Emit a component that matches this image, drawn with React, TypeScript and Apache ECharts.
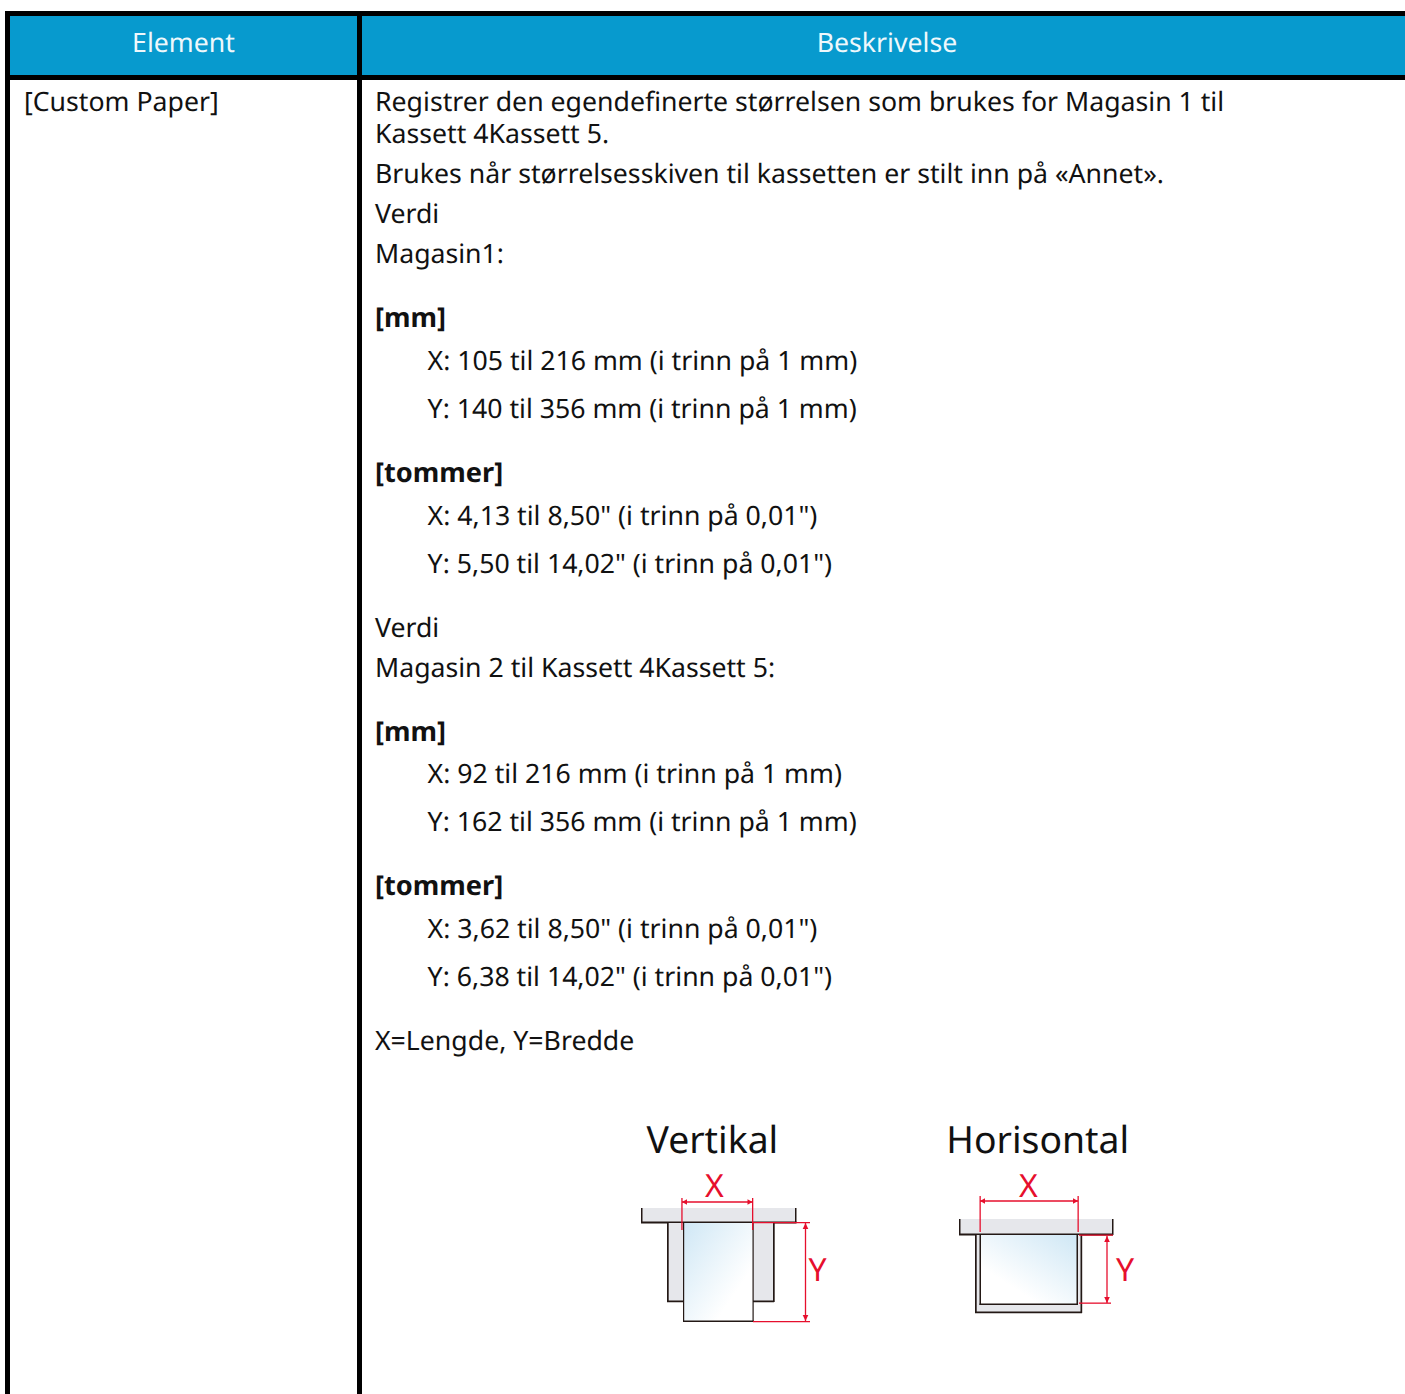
import React, { useEffect, useRef } from "react";
import * as echarts from "echarts";

const headers = ["Element", "Beskrivelse"];
const rowLabel = "[Custom Paper]";
const bodyLines = [
  "Registrer den egendefinerte størrelsen som brukes for Magasin 1 til",
  "Kassett 4Kassett 5.",
  "Brukes når størrelsesskiven til kassetten er stilt inn på «Annet».",
  "Verdi",
  "Magasin1:",
  "[mm]",
  "X: 105 til 216 mm (i trinn på 1 mm)",
  "Y: 140 til 356 mm (i trinn på 1 mm)",
  "[tommer]",
  "X: 4,13 til 8,50\" (i trinn på 0,01\")",
  "Y: 5,50 til 14,02\" (i trinn på 0,01\")",
  "Verdi",
  "Magasin 2 til Kassett 4Kassett 5:",
  "[mm]",
  "X: 92 til 216 mm (i trinn på 1 mm)",
  "Y: 162 til 356 mm (i trinn på 1 mm)",
  "[tommer]",
  "X: 3,62 til 8,50\" (i trinn på 0,01\")",
  "Y: 6,38 til 14,02\" (i trinn på 0,01\")",
  "X=Lengde, Y=Bredde",
];
const bodyY = [100, 132, 172, 212, 252, 316, 359, 407, 471, 514, 562, 626, 666, 730, 772, 820, 884, 927, 975, 1039];
const figureTitles = ["Vertikal", "Horisontal"];
const FONT = "'Noto Sans'";
const INK = "#111";
const RED = "#e60f2d";
const PANEL = "#e6e7eb";
const TRAY_LINE = "#231815";
const BODY_SIZE = 26.67;
const BOLD_SIZE = 27.2;

const rect = (x: number, y: number, w: number, h: number, fill: any) => ({
  type: "rect", silent: true, shape: { x, y, width: w, height: h }, style: { fill },
});
const text = (t: string, x: number, y: number, size: number, fill = INK, align = "left", weight = "normal") => ({
  type: "text", silent: true,
  style: { text: t, x, y, fill, align, verticalAlign: "middle", fontFamily: FONT, fontSize: size, fontWeight: weight },
});
const tri = (pts: number[][], fill = RED) => ({
  type: "polygon", silent: true, shape: { points: pts }, style: { fill },
});
const paperGrad = (x: number, y: number, x2: number, y2: number) =>
  new echarts.graphic.LinearGradient(x, y, x2, y2, [
    { offset: 0, color: "#cfe7f5" },
    { offset: 0.75, color: "#ffffff" },
    { offset: 1, color: "#ffffff" },
  ]);

function hArrow(x1: number, x2: number, y: number) {
  return [
    rect(x1, y - 0.65, x2 - x1, 1.3, RED),
    tri([[x1, y], [x1 + 5, y - 2.8], [x1 + 5, y + 2.8]]),
    tri([[x2, y], [x2 - 5, y - 2.8], [x2 - 5, y + 2.8]]),
  ];
}
function vArrow(x: number, y1: number, y2: number) {
  return [
    rect(x - 0.65, y1, 1.3, y2 - y1, RED),
    tri([[x, y1], [x - 2.8, y1 + 6], [x + 2.8, y1 + 6]]),
    tri([[x, y2], [x - 2.8, y2 - 6], [x + 2.8, y2 - 6]]),
  ];
}

function buildGraphics() {
  const g: any[] = [];
  // table frame
  g.push(rect(5, 11, 1400, 69, "#000"));
  g.push(rect(10, 16, 347, 59, "#079ace"));
  g.push(rect(362, 16, 1043, 59, "#079ace"));
  g.push(rect(5, 80, 5, 1314, "#000"));
  g.push(rect(357, 80, 5, 1314, "#000"));
  g.push(text(headers[0], 183.5, 41, BODY_SIZE, "#eef8fc", "center"));
  g.push(text(headers[1], 887, 41, BODY_SIZE, "#eef8fc", "center"));
  g.push(text(rowLabel, 24, 100, BODY_SIZE));
  bodyLines.forEach((l, i) => {
    const isHead = l === "[mm]" || l === "[tommer]";
    const indented = l.startsWith("X: ") || l.startsWith("Y: ");
    g.push(text(l, indented ? 427.6 : 375, bodyY[i], isHead ? BOLD_SIZE : BODY_SIZE, INK, "left", isHead ? "bold" : "normal"));
  });

  // Vertikal figure
  g.push(text(figureTitles[0], 646.5, 1138, 37.33, "#111"));
  g.push(rect(642, 1208, 154, 14, PANEL));
  g.push(rect(641, 1208, 1.5, 15, TRAY_LINE));
  g.push(rect(795, 1208, 1.5, 15, TRAY_LINE));
  g.push(rect(641, 1221.5, 155.5, 2, TRAY_LINE));
  g.push(rect(667, 1223, 107, 78, PANEL));
  g.push(rect(667, 1223, 1.7, 79, TRAY_LINE));
  g.push(rect(773, 1223, 1.7, 79, TRAY_LINE));
  g.push(rect(667, 1300.5, 107, 1.7, TRAY_LINE));
  g.push(rect(683, 1223, 70, 98, paperGrad(0, 0, 1, 0.95)));
  g.push(rect(683, 1223, 1.2, 99, TRAY_LINE));
  g.push(rect(752.5, 1223, 1.2, 99, TRAY_LINE));
  g.push(rect(683, 1320.5, 70.7, 1.5, TRAY_LINE));
  g.push(rect(681.3, 1198, 1.3, 32, RED));
  g.push(rect(752, 1198, 1.3, 32, RED));
  g.push(...hArrow(682, 752.5, 1202));
  g.push(rect(753, 1222, 57, 1.3, RED));
  g.push(rect(753, 1321, 57, 1.3, RED));
  g.push(...vArrow(805.5, 1223, 1321));
  g.push(text("X", 714.5, 1185, 32, RED, "center"));
  g.push(text("Y", 817.5, 1269.5, 32, RED, "center"));

  // Horisontal figure
  g.push(text(figureTitles[1], 946.3, 1138, 37.33, "#111"));
  g.push(rect(960, 1219, 153, 15, PANEL));
  g.push(rect(959, 1219, 1.5, 16, TRAY_LINE));
  g.push(rect(1112, 1219, 1.5, 16, TRAY_LINE));
  g.push(rect(959, 1233.5, 154, 2, TRAY_LINE));
  g.push(rect(975, 1235, 107, 78, PANEL));
  g.push(rect(975, 1235, 1.7, 78, TRAY_LINE));
  g.push(rect(1080.5, 1235, 1.7, 78, TRAY_LINE));
  g.push(rect(975, 1311.5, 107, 1.7, TRAY_LINE));
  g.push(rect(980, 1235, 97, 69, paperGrad(1, 0, 0.1, 1)));
  g.push(rect(979.5, 1235, 1.5, 70, TRAY_LINE));
  g.push(rect(1076.5, 1235, 1.5, 70, TRAY_LINE));
  g.push(rect(979.5, 1303.5, 98.5, 1.5, TRAY_LINE));
  g.push(rect(979.5, 1196, 1.3, 36, RED));
  g.push(rect(1077.5, 1196, 1.3, 36, RED));
  g.push(...hArrow(980, 1078, 1201));
  g.push(rect(1079, 1234.5, 34, 1.3, RED));
  g.push(rect(1079, 1302.5, 32, 1.3, RED));
  g.push(...vArrow(1107, 1236, 1303));
  g.push(text("X", 1028.5, 1185, 32, RED, "center"));
  g.push(text("Y", 1125, 1269.5, 32, RED, "center"));
  return g;
}

export default function App() {
  const ref = useRef<HTMLDivElement>(null);
  useEffect(() => {
    if (!ref.current) return;
    const chart = echarts.init(ref.current, undefined, { renderer: "svg" });
    chart.setOption({
      animation: false,
      backgroundColor: "#ffffff",
      graphic: { elements: buildGraphics() },
    });
    return () => chart.dispose();
  }, []);
  return <div ref={ref} style={{ position: "absolute", left: 0, top: 0, width: 1405, height: 1394, textRendering: "geometricPrecision" }} />;
}
